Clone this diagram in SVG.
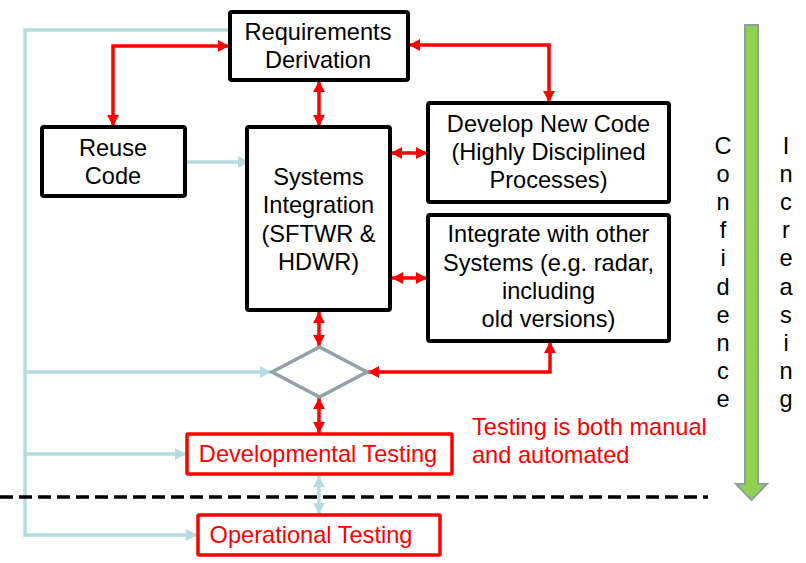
<svg xmlns="http://www.w3.org/2000/svg" width="806" height="563" viewBox="0 0 806 563">
<style>
.box{fill:#fff;stroke:#000;stroke-width:4}
.rbox{fill:#fff;stroke:#ff0000;stroke-width:3.5}
.t{font-family:"Liberation Sans",Arial,sans-serif;font-size:23.6px;fill:#000;text-anchor:middle}
.rt{fill:#ff0000}
.red{fill:none;stroke:#ff0000;stroke-width:3.5;marker-start:url(#ra);marker-end:url(#ra)}
.blue{fill:none;stroke:#b5dce0;stroke-width:3.5}
.ba{marker-end:url(#ba)}
.bb{marker-start:url(#ba);marker-end:url(#ba)}
</style>
<defs>
<marker id="ra" viewBox="0 0 11 12" refX="11" refY="6" markerWidth="11" markerHeight="12" markerUnits="userSpaceOnUse" orient="auto-start-reverse">
<path d="M0,0 L11,6 L0,12 z" fill="#ff0000"/>
</marker>
<marker id="ba" viewBox="0 0 11 12" refX="11" refY="6" markerWidth="11" markerHeight="12" markerUnits="userSpaceOnUse" orient="auto-start-reverse">
<path d="M0,0 L11,6 L0,12 z" fill="#b5dce0"/>
</marker>
</defs>
<rect width="806" height="563" fill="#fff"/>

<g id="connectors">
<path class="blue ba" d="M237,30 H25 V535 H197"/>
<path class="blue ba" d="M25,372 H271"/>
<path class="blue ba" d="M25,454 H186"/>
<path class="blue ba" d="M185,162 H249"/>
<path class="blue bb" d="M319,476 V514"/>
<path class="red" d="M229,46 H113 V126"/>
<path class="red" d="M319,81 V126"/>
<path class="red" d="M409,45 H549 V102"/>
<path class="red" d="M391,153 H427"/>
<path class="red" d="M392,278 H427"/>
<path class="red" d="M319,312 V346"/>
<path class="red" d="M368,372 H550 V342"/>
<path class="red" d="M319,398 V433"/>
<line x1="0" y1="497" x2="708" y2="497" stroke="#000" stroke-width="3.5" stroke-dasharray="13,6"/>
</g>

<g id="req">
<rect class="box" x="230" y="12" width="178" height="68" rx="2"/>
<text class="t" x="318" y="40">Requirements</text>
<text class="t" x="318" y="68">Derivation</text>
</g>

<g id="reuse">
<rect class="box" x="42" y="127" width="143" height="69" rx="2"/>
<text class="t" x="113" y="156">Reuse</text>
<text class="t" x="113" y="184">Code</text>
</g>

<g id="sys">
<rect class="box" x="247" y="127" width="143" height="183" rx="2"/>
<text class="t" x="318.5" y="185">Systems</text>
<text class="t" x="318.5" y="213">Integration</text>
<text class="t" x="318.5" y="242">(SFTWR &amp;</text>
<text class="t" x="318.5" y="270">HDWR)</text>
</g>

<g id="dev">
<rect class="box" x="428" y="103" width="241" height="99" rx="2"/>
<text class="t" x="548.5" y="132">Develop New Code</text>
<text class="t" x="548.5" y="160">(Highly Disciplined</text>
<text class="t" x="548.5" y="188">Processes)</text>
</g>

<g id="integ">
<rect class="box" x="428" y="215" width="241" height="126" rx="2"/>
<text class="t" x="548.5" y="242">Integrate with other</text>
<text class="t" x="548.5" y="271">Systems (e.g. radar,</text>
<text class="t" x="548.5" y="299">including</text>
<text class="t" x="548.5" y="327">old versions)</text>
</g>

<g id="decision">
<polygon points="272,372 319.5,347 367,372 319.5,397" fill="#fff" stroke="#8fa2a5" stroke-width="3.5"/>
</g>

<g id="devtest">
<rect class="rbox" x="187" y="434" width="265" height="40" rx="1"/>
<text class="t rt" x="318" y="462">Developmental Testing</text>
</g>

<g id="optest">
<rect class="rbox" x="198" y="515" width="242" height="40" rx="1"/>
<text class="t rt" x="311" y="543">Operational Testing</text>
</g>

<g id="note">
<text class="t rt" x="472" y="435" style="text-anchor:start">Testing is both manual</text>
<text class="t rt" x="472" y="463" style="text-anchor:start">and automated</text>
</g>

<g id="confidence-arrow">
<path d="M745,25 H758 V484 H767 L751.5,500 L736,484 H745 Z" fill="#92d050" stroke="#8c9fa3" stroke-width="2"/>
</g>

<g id="confidence-label">
<text class="t" x="723" y="154">C</text>
<text class="t" x="723" y="182">o</text>
<text class="t" x="723" y="210">n</text>
<text class="t" x="723" y="238">f</text>
<text class="t" x="723" y="266">i</text>
<text class="t" x="723" y="295">d</text>
<text class="t" x="723" y="323">e</text>
<text class="t" x="723" y="351">n</text>
<text class="t" x="723" y="379">c</text>
<text class="t" x="723" y="407">e</text>
</g>

<g id="increasing-label">
<text class="t" x="786" y="154">I</text>
<text class="t" x="786" y="182">n</text>
<text class="t" x="786" y="210">c</text>
<text class="t" x="786" y="238">r</text>
<text class="t" x="786" y="266">e</text>
<text class="t" x="786" y="295">a</text>
<text class="t" x="786" y="323">s</text>
<text class="t" x="786" y="351">i</text>
<text class="t" x="786" y="379">n</text>
<text class="t" x="786" y="407">g</text>
</g>
</svg>
